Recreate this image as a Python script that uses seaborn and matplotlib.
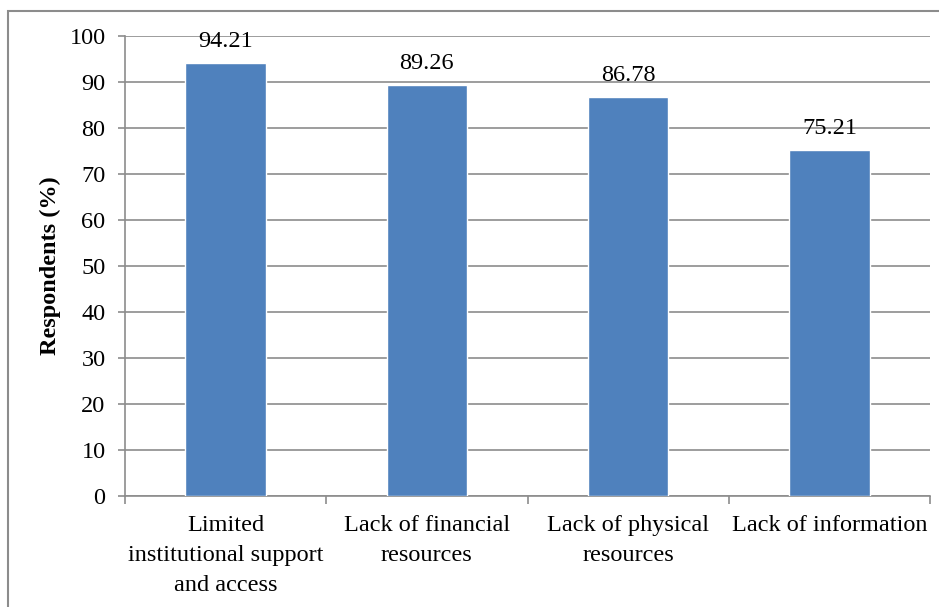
import matplotlib
matplotlib.use("Agg")
import matplotlib.pyplot as plt
import seaborn as sns
import pandas as pd
from matplotlib.patches import Rectangle

categories = ["Limited\ninstitutional support\nand access",
              "Lack of financial\nresources",
              "Lack of physical\nresources",
              "Lack of information"]
values = [94.21, 89.26, 86.78, 75.21]
yticks = [0, 10, 20, 30, 40, 50, 60, 70, 80, 90, 100]

df = pd.DataFrame({"category": categories, "value": values})

sns.set_theme(style="white")
plt.rcParams['font.family'] = ['Liberation Serif', 'DejaVu Serif']
plt.rcParams['text.color'] = 'black'
plt.rcParams['axes.labelcolor'] = 'black'
plt.rcParams['xtick.color'] = 'black'
plt.rcParams['ytick.color'] = 'black'

fs = 17.5

fig = plt.figure(figsize=(9.39, 6.07), dpi=100)
ax = fig.add_axes([125/939, 1-496/607, (930-125)/939, (496-36)/607])

grey = "#8c8c8c"
sns.barplot(data=df, x="category", y="value", color="#4F81BD", saturation=1,
            width=0.40, ax=ax, zorder=3)

ax.set_ylim(0, 100)
ax.set_xlim(-0.5, 3.5)
ax.set_yticks(yticks)
ax.yaxis.grid(True, color=grey, linewidth=1.2, zorder=0)
ax.set_axisbelow(True)

for s in ["top", "right"]:
    ax.spines[s].set_visible(False)
for s in ["left", "bottom"]:
    ax.spines[s].set_color(grey)
    ax.spines[s].set_linewidth(1.2)

ax.tick_params(axis="y", which="major", length=5, width=1.2, color=grey,
               labelsize=fs, pad=9, left=True, labelcolor="black")
ax.set_xticks([-0.5, 0.5, 1.5, 2.5, 3.5], minor=True)
ax.tick_params(axis="x", which="minor", length=6, width=1.2, color=grey,
               bottom=True, direction="out")
ax.set_xticks(range(len(categories)), labels=categories, linespacing=1.55)
ax.tick_params(axis="x", which="major", length=0, labelsize=fs, pad=14,
               labelcolor="black")

ax.set_xlabel("")
ax.set_ylabel("Respondents (%)", fontsize=fs, fontweight="bold", labelpad=6)

for i, v in enumerate(values):
    ax.annotate(f"{v:.2f}", xy=(i, v), xytext=(0, 8), textcoords="offset points",
                ha="center", va="bottom", fontsize=fs, color="black")

# outer frame
fig.patches.append(Rectangle((8/939, -0.05), 1.1, 1 - 11/607 + 0.05,
                             transform=fig.transFigure, fill=False,
                             edgecolor=grey, linewidth=1.5))

fig.savefig("out.png", dpi=100)
